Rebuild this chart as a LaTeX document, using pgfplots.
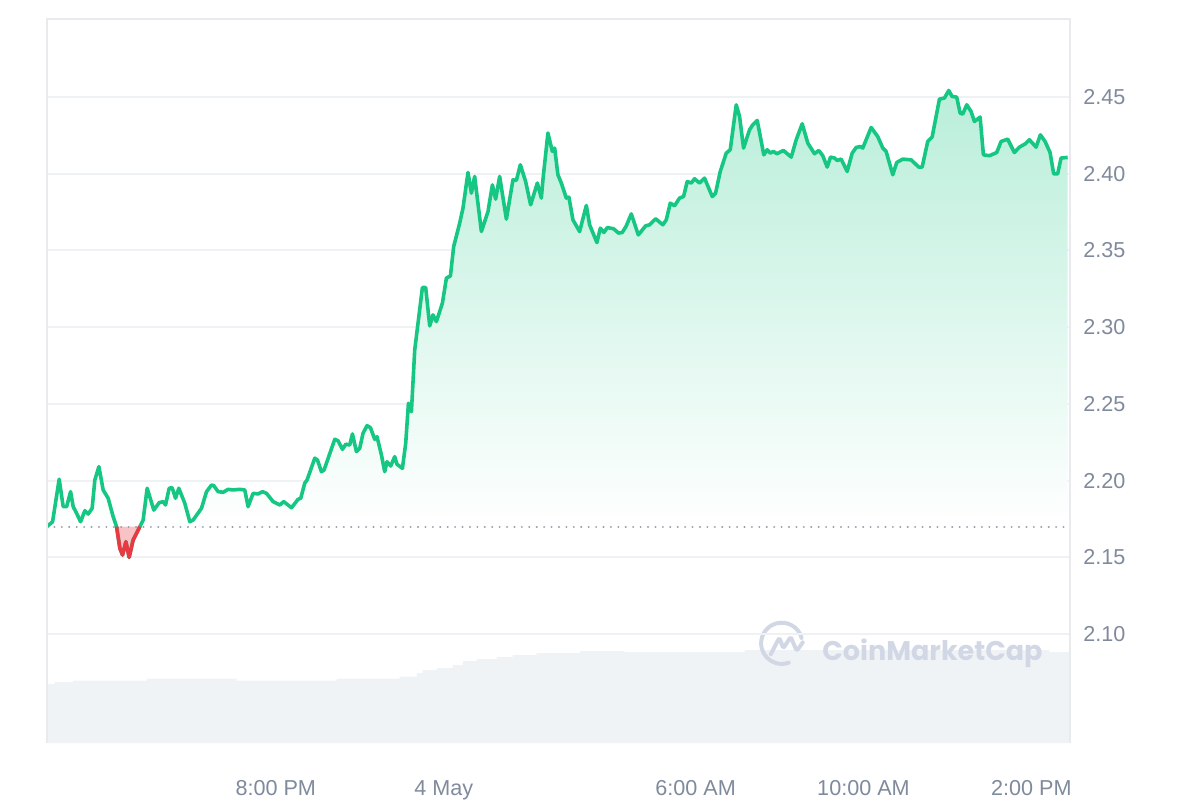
\documentclass[border=0pt]{standalone}
\usepackage{fontspec}
\setmainfont{Liberation Sans}
\newfontfamily\wmfont{Poppins}
\usepackage{pgfplots}
\usepackage{pgfplotstable}
\pgfplotsset{compat=1.18}

\definecolor{cmcgreen}{RGB}{22,199,132}
\definecolor{cmcred}{RGB}{234,57,67}
\definecolor{gridc}{RGB}{239,242,245}
\definecolor{framec}{RGB}{232,234,237}
\definecolor{tickc}{RGB}{128,138,157}
\definecolor{volc}{RGB}{240,243,246}
\definecolor{wmc}{RGB}{209,215,228}
\definecolor{dotc}{RGB}{150,156,170}

\pgfplotstableread{
h vol
14.55 59
14.74 61
15.17 62.5
16.93 64.5
19.07 62.5
21.45 64.5
22.95 66.5
23.36 70
23.50 73
23.83 75
24.21 78
24.45 82
24.79 84
25.26 86
25.64 88
26.21 90
27.24 92
28.31 91
31.17 93
38.43 91
38.92 91
}\voltable

\pgfplotstableread{
h price
14.550 2.1700
14.683 2.1732
14.840 2.2009
14.936 2.1830
15.017 2.1830
15.112 2.1928
15.174 2.1830
15.255 2.1787
15.350 2.1732
15.452 2.1804
15.531 2.1782
15.626 2.1820
15.690 2.2004
15.786 2.2091
15.888 2.1939
16.007 2.1885
16.126 2.1765
16.207 2.1700
16.286 2.1559
16.350 2.1515
16.429 2.1602
16.507 2.1500
16.602 2.1613
16.762 2.1700
16.840 2.1743
16.936 2.1950
17.095 2.1808
17.221 2.1856
17.317 2.1863
17.374 2.1841
17.460 2.1950
17.531 2.1954
17.612 2.1885
17.690 2.1950
17.833 2.1852
17.952 2.1732
18.031 2.1743
18.231 2.1820
18.350 2.1928
18.469 2.1971
18.524 2.1967
18.626 2.1928
18.745 2.1924
18.864 2.1943
18.983 2.1939
19.143 2.1943
19.262 2.1939
19.340 2.1830
19.460 2.1917
19.579 2.1913
19.683 2.1928
19.779 2.1917
19.936 2.1863
20.095 2.1841
20.190 2.1863
20.374 2.1823
20.531 2.1878
20.595 2.1885
20.690 2.1983
20.745 2.2004
20.929 2.2146
20.993 2.2134
21.088 2.2058
21.150 2.2069
21.405 2.2269
21.483 2.2260
21.588 2.2204
21.667 2.2237
21.762 2.2232
21.826 2.2304
21.921 2.2189
22.000 2.2211
22.079 2.2309
22.174 2.2358
22.255 2.2345
22.357 2.2269
22.412 2.2286
22.517 2.2167
22.595 2.2058
22.650 2.2123
22.738 2.2095
22.833 2.2156
22.888 2.2106
23.017 2.2080
23.095 2.2243
23.160 2.2504
23.231 2.2449
23.310 2.2852
23.493 2.3258
23.571 2.3258
23.667 2.3008
23.745 2.3080
23.826 2.3036
23.969 2.3156
24.064 2.3319
24.160 2.3334
24.238 2.3525
24.381 2.3678
24.460 2.3776
24.579 2.4008
24.660 2.3873
24.738 2.3982
24.898 2.3623
25.055 2.3753
25.160 2.3927
25.238 2.3834
25.333 2.3982
25.493 2.3704
25.650 2.3960
25.731 2.3956
25.826 2.4058
25.952 2.3949
26.071 2.3797
26.231 2.3939
26.326 2.3841
26.364 2.3960
26.483 2.4265
26.588 2.4145
26.643 2.4167
26.721 2.3993
26.802 2.3939
26.921 2.3841
26.983 2.3847
27.079 2.3699
27.238 2.3623
27.398 2.3793
27.476 2.3667
27.650 2.3551
27.731 2.3645
27.817 2.3617
27.898 2.3649
28.048 2.3641
28.167 2.3613
28.255 2.3617
28.350 2.3660
28.469 2.3738
28.636 2.3601
28.810 2.3660
28.905 2.3667
29.048 2.3706
29.221 2.3667
29.302 2.3699
29.398 2.3808
29.500 2.3791
29.619 2.3841
29.714 2.3851
29.802 2.3949
29.898 2.3939
29.976 2.3967
30.095 2.3939
30.214 2.3971
30.398 2.3851
30.476 2.3873
30.588 2.4014
30.731 2.4134
30.826 2.4156
30.969 2.4449
31.048 2.4373
31.143 2.4167
31.286 2.4286
31.364 2.4319
31.469 2.4347
31.626 2.4123
31.707 2.4156
31.779 2.4134
31.857 2.4145
31.936 2.4130
32.095 2.4151
32.279 2.4108
32.398 2.4221
32.540 2.4325
32.674 2.4199
32.833 2.4130
32.936 2.4151
33.031 2.4117
33.136 2.4043
33.214 2.4108
33.310 2.4102
33.374 2.4086
33.469 2.4095
33.612 2.4014
33.731 2.4134
33.826 2.4171
33.929 2.4177
33.983 2.4167
34.183 2.4301
34.340 2.4242
34.460 2.4167
34.540 2.4145
34.698 2.3993
34.793 2.4073
34.936 2.4095
35.136 2.4090
35.317 2.4043
35.398 2.4043
35.531 2.4210
35.636 2.4239
35.810 2.4486
35.929 2.4493
36.031 2.4542
36.112 2.4503
36.221 2.4499
36.302 2.4395
36.364 2.4388
36.460 2.4449
36.564 2.4405
36.643 2.4340
36.779 2.4369
36.857 2.4123
37.000 2.4117
37.174 2.4138
37.279 2.4210
37.436 2.4225
37.595 2.4138
37.714 2.4173
37.857 2.4195
37.952 2.4221
38.112 2.4173
38.214 2.4253
38.326 2.4210
38.445 2.4138
38.531 2.3999
38.626 2.3999
38.707 2.4102
38.864 2.4106
}\pricetable

\begin{document}
\begin{tikzpicture}
\useasboundingbox (0,0) rectangle (600pt,400pt);
% volume
\begin{axis}[
  at={(23.5pt,28.5pt)}, anchor=south west,
  width=511.5pt, height=362pt, scale only axis,
  xmin=14.55, xmax=38.92, ymin=0, ymax=724,
  hide axis]
\addplot[const plot, fill=volc, draw=none] table[x=h,y=vol]{\voltable} \closedcycle;
\end{axis}
% watermark
\draw[wmc, line width=2pt, line cap=round] (390.85pt,78.35pt) ++(15:10.3pt) arc[start angle=15, end angle=290, radius=10.3pt];
\draw[wmc, line width=2pt, line join=round, line cap=round, rounded corners=1pt] (385.35pt,72.85pt) -- (389.65pt,81.15pt) -- (391.65pt,75.85pt) -- (395.35pt,81.55pt) -- (398.35pt,74.55pt) -- (401.4pt,78.8pt);
\node[anchor=base west, inner sep=0pt, text=wmc, font=\wmfont\bfseries\fontsize{13.5}{16}\selectfont] at (411pt,70pt) {CoinMarketCap};
% price
\begin{axis}[
  name=pa,
  at={(23.5pt,28.5pt)}, anchor=south west,
  width=511.5pt, height=362pt, scale only axis,
  xmin=14.55, xmax=38.92, ymin=2.029, ymax=2.5008,
  axis line style={draw=none},
  ymajorgrids, grid style={gridc, line width=1pt},
  ytick={2.10,2.15,2.20,2.25,2.30,2.35,2.40,2.45},
  yticklabel pos=right,
  xtick={20,24,30,34,38},
  xticklabels={8:00 PM, 4 May, 6:00 AM, 10:00 AM, 2:00 PM},
  major tick length=0pt,
  tick label style={font=\fontsize{10.8}{13}\selectfont, text=tickc},
  /pgf/number format/assume math mode=true,
  yticklabel style={anchor=west, inner sep=0pt, xshift=6.5pt,
    /pgf/number format/.cd, fixed, fixed zerofill, precision=2},
  xticklabel style={anchor=base, inner sep=0pt, yshift=-26pt},
]
\addplot[top color=cmcgreen!4!white, bottom color=white, draw=none]
  table[x=h,y=price, restrict x to domain=14.5:16.21]{\pricetable} -- cycle;
\addplot[top color=cmcgreen!30!white, bottom color=white, draw=none]
  table[x=h,y=price, restrict x to domain=16.76:39]{\pricetable} -- (axis cs:38.864,2.17) -- (axis cs:16.762,2.17) -- cycle;
\addplot[fill=cmcred, fill opacity=0.3, draw=none]
  table[x=h,y=price, restrict x to domain=16.2:16.77]{\pricetable} -- cycle;
\addplot[dotc, line width=1.1pt, dash pattern=on 0.01pt off 3.7pt, line cap=round] coordinates {(14.55,2.17) (38.92,2.17)};
\addplot[cmcgreen, line width=1.8pt, line join=round] table[x=h,y=price]{\pricetable};
\addplot[cmcred, line width=1.8pt, line join=round] table[x=h,y=price, restrict x to domain=16.2:16.77]{\pricetable};
\end{axis}
\draw[framec, line width=1pt] (pa.south west) -- (pa.north west) -- (pa.north east) -- (pa.south east);
\end{tikzpicture}
\end{document}
